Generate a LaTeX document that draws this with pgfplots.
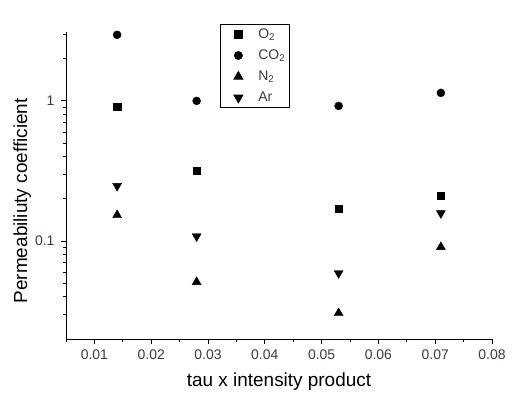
\documentclass[border=0pt]{standalone}
\usepackage{fontspec}
\setmainfont{Liberation Sans}
\usepackage{pgfplots}
\pgfplotsset{compat=1.18}
\definecolor{TickInk}{HTML}{3C3850}

\begin{document}
\begin{tikzpicture}
\useasboundingbox (-66bp,-66bp) rectangle (452bp,339bp);
\begin{axis}[
  scale only axis,
  width=426bp,height=307bp,
  xmin=0.005,xmax=0.08,
  ymode=log,ymin=0.02,ymax=3.1,
  axis x line=bottom,axis y line=left,
  axis line style={-,black,line width=0.8pt},
  tick align=outside,
  major tick length=5bp,minor tick length=3bp,
  tick style={black,line width=0.8pt},
  scaled x ticks=false,
  xtick={0.01,0.02,0.03,0.04,0.05,0.06,0.07,0.08},
  xticklabels={0.01,0.02,0.03,0.04,0.05,0.06,0.07,0.08},
  minor xtick={0.005,0.015,0.025,0.035,0.045,0.055,0.065,0.075},
  ytick={0.1,1},yticklabels={0.1,1},
  minor ytick={0.03,0.04,0.05,0.06,0.07,0.08,0.09,0.2,0.3,0.4,0.5,0.6,0.7,0.8,0.9,2,3},
  /pgf/number format/assume math mode=true,
  tick label style={font=\fontsize{14}{16}\selectfont,color=TickInk},
  yticklabel style={xshift=-3bp},
  xticklabel style={yshift=-2bp},
  xlabel={tau x intensity product},
  ylabel={Permeabiliuty coefficient},
  label style={font=\fontsize{19}{22}\selectfont,color=black},
  xlabel style={at={(rel axis cs:0.5,0)},anchor=north,inner sep=0pt,yshift=-34bp},
  ylabel style={at={(axis description cs:-0.103,0.45)},anchor=center,inner sep=0pt},
  legend cell align=left,
  legend image code/.code={\path[#1,draw=none] (0bp,0bp) -- (34bp,0bp);
    \draw[#1] plot coordinates {(16bp,0bp)};},
  legend style={at={(rel axis cs:0.3615,1.025)},anchor=north west,
    draw=black,line width=0.8pt,font=\fontsize{14}{16}\selectfont,
    text=TickInk,row sep=6pt,inner sep=2pt},
]
\addlegendimage{black,mark=square*,mark size=3.6bp}
\addlegendentry{O\textsubscript{2}}
\addlegendimage{black,mark=*,mark size=4bp}
\addlegendentry{CO\textsubscript{2}}
\addlegendimage{black,mark=triangle*,mark size=5.2bp}
\addlegendentry{N\textsubscript{2}}
\addlegendimage{black,mark=triangle*,mark size=5.2bp,mark options={rotate=180}}
\addlegendentry{Ar}

\addplot[only marks,black,forget plot,mark=square*,mark size=3.6bp] coordinates {
  (0.014,0.906)(0.028,0.316)(0.053,0.169)(0.071,0.21)};
\addplot[only marks,black,forget plot,mark=*,mark size=4bp] coordinates {
  (0.014,2.96)(0.028,1.0)(0.053,0.92)(0.071,1.14)};
\addplot[only marks,black,forget plot,mark=triangle*,mark size=5.2bp] coordinates {
  (0.014,0.153)(0.028,0.051)(0.053,0.0306)(0.071,0.0906)};
\addplot[only marks,black,forget plot,mark=triangle*,mark size=5.2bp,mark options={rotate=180}] coordinates {
  (0.014,0.247)(0.028,0.108)(0.053,0.059)(0.071,0.158)};
\end{axis}
\end{tikzpicture}
\end{document}
